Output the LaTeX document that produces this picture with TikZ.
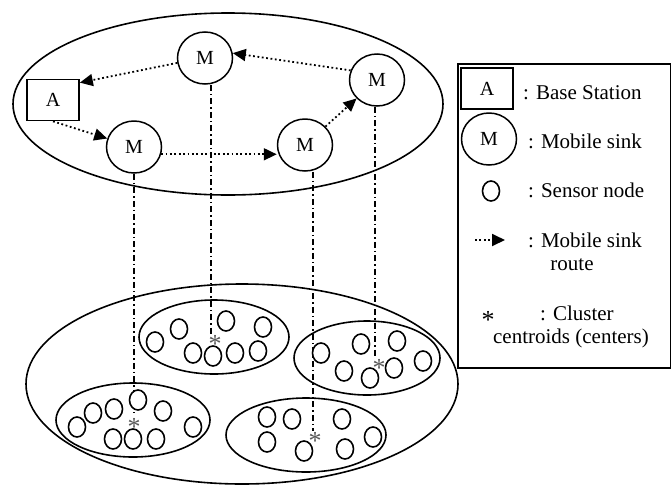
\documentclass[tikz,border=0pt]{standalone}
\usepackage{fontspec}
\setmainfont{Liberation Serif}
\usetikzlibrary{shapes.geometric,arrows.meta,calc}
\begin{document}
\begin{tikzpicture}[x=1pt,y=-1pt,
  region/.style={ellipse, draw, line width=1.6pt, inner sep=0pt},
  msink/.style={ellipse, draw, fill=white, line width=1.5pt, minimum width=55pt, minimum height=52pt, inner sep=0pt, font=\fontsize{20}{24}\selectfont},
  bstation/.style={rectangle, draw, line width=1.7pt, minimum width=52pt, minimum height=41pt, inner sep=0pt, font=\fontsize{20}{24}\selectfont},
  sensor/.style={ellipse, draw, fill=white, line width=1.6pt, minimum width=17pt, minimum height=20pt, inner sep=0pt},
  route/.style={line width=1.8pt, dash pattern=on 1.8pt off 2.6pt, -{Triangle[length=13pt,width=12pt]}},
  ddline/.style={line width=1.3pt, dash pattern=on 6pt off 3pt on 1.5pt off 3pt},
  legtext/.style={font=\fontsize{21}{24}\selectfont, anchor=base west, inner sep=0pt},
  starmark/.style={font=\fontsize{26}{28}\selectfont, anchor=base, inner sep=0pt, text=black!65},
]
\useasboundingbox (0,0) rectangle (671,485);

% regions
\node[region, minimum width=430pt, minimum height=182pt] (upper) at (228,104) {};
\node[region, minimum width=432pt, minimum height=200pt] (lower) at (242,384) {};
\node[region, minimum width=150pt, minimum height=74pt] (cl1) at (214,337) {};
\node[region, minimum width=146pt, minimum height=74pt] (cl2) at (367,358) {};
\node[region, minimum width=154pt, minimum height=74pt] (cl3) at (133,420) {};
\node[region, minimum width=160pt, minimum height=74pt] (cl4) at (306,435) {};

% base station and mobile sinks
\node[bstation] (A) at (53,100) {A};
\node[msink] (M1) at (134,147) {M};
\node[msink] (M2) at (305,145) {M};
\node[msink] (M3) at (377,80) {M};
\node[msink] (M4) at (205,58) {M};

% route
\draw[route] (A.south) -- (M1);
\draw[route] (M1.-15) -- (M2.west |- M1.-15);
\draw[route] (M2) -- (M3);
\draw[route] (M3.160) -- (M4.10);
\draw[route] (M4.190) -- ($(A.north east)+(0,4)$);

% projection lines
\coordinate (e1) at (134,413);
\coordinate (e2) at (211,334);
\coordinate (e3) at (313,431);
\coordinate (e4) at (375,357);
\draw[ddline] (M1.south) -- (e1);
\draw[ddline] (M4.south -| e2) -- (e2);
\draw[ddline] (M2.south -| e3) -- (e3);
\draw[ddline] (M3.south -| e4) -- (e4);

% cluster 1
\node[sensor] (s11) at (155,342) {};
\node[sensor] (s12) at (179,329) {};
\node[sensor] (s13) at (226,321) {};
\node[sensor] (s14) at (263,327) {};
\node[sensor] (s15) at (193,353) {};
\node[sensor] (s16) at (213,356) {};
\node[sensor] (s17) at (235,353) {};
\node[sensor] (s18) at (258,351) {};
% cluster 2
\node[sensor] (s21) at (321,353) {};
\node[sensor] (s22) at (361,344) {};
\node[sensor] (s23) at (397,341) {};
\node[sensor] (s24) at (344,371) {};
\node[sensor] (s25) at (370,378) {};
\node[sensor] (s26) at (394,368) {};
\node[sensor] (s27) at (423,361) {};
% cluster 3
\node[sensor] (s31) at (77,427) {};
\node[sensor] (s32) at (93,413) {};
\node[sensor] (s33) at (114,409) {};
\node[sensor] (s34) at (138,400) {};
\node[sensor] (s35) at (163,411) {};
\node[sensor] (s36) at (193,427) {};
\node[sensor] (s37) at (113,439) {};
\node[sensor] (s38) at (133,439) {};
\node[sensor] (s39) at (156,439) {};
% cluster 4
\node[sensor] (s41) at (267,417) {};
\node[sensor] (s42) at (292,419) {};
\node[sensor] (s43) at (342,419) {};
\node[sensor] (s44) at (267,442) {};
\node[sensor] (s45) at (304,451) {};
\node[sensor] (s46) at (345,449) {};
\node[sensor] (s47) at (373,437) {};

% centroids
\node[starmark] (c1) at (215,352) {*};
\node[starmark] (c2) at (379,376) {*};
\node[starmark] (c3) at (134,435) {*};
\node[starmark] (c4) at (315,449) {*};

% legend
\node[draw, line width=2pt, minimum width=213pt, minimum height=304pt, anchor=north west, inner sep=0pt] (legend) at (457,63) {};
\node[bstation] (lA) at (487,88.5) {A};
\node[msink] (lM) at (489,139) {M};
\node[sensor] (lS) at (491,191) {};
\coordinate (la0) at (475,240);
\coordinate (la1) at (505,240);
\draw[route] (la0) -- (la1);
\node[starmark, text=black] (lstar) at (488,328) {*};
\node[legtext] (t1) at (523,99) {: Base Station};
\node[legtext] (t2) at (528,148) {: Mobile sink};
\node[legtext] (t3) at (528,197) {: Sensor node};
\node[legtext] (t4) at (528,247) {: Mobile sink};
\node[legtext, anchor=base] (t5) at (572,270) {route};
\node[legtext] (t6) at (540,320) {: Cluster};
\node[legtext, anchor=base] (t7) at (571,343) {centroids (centers)};
\end{tikzpicture}
\end{document}
